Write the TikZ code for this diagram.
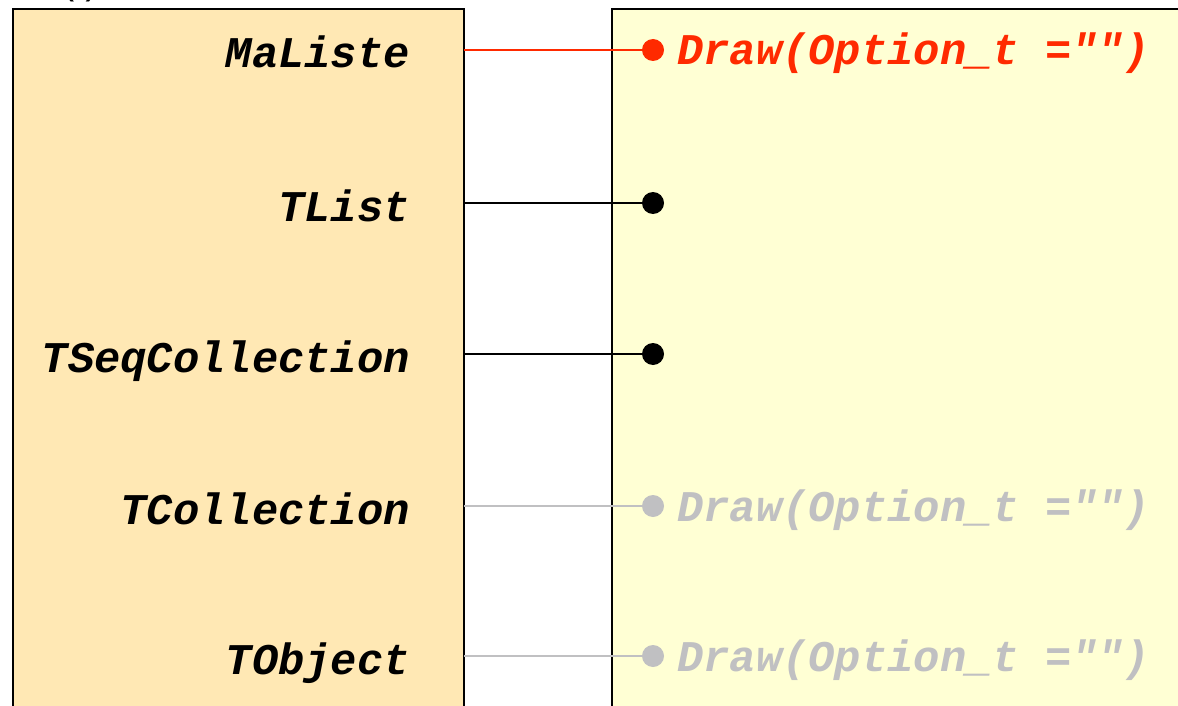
\documentclass[tikz,border=0pt]{standalone}
\usepackage{fontspec}
\setmonofont{Liberation Mono}
\begin{document}
\begin{tikzpicture}[x=1pt,y=-1pt,
  code/.style={font=\fontsize{43.8}{44}\selectfont\ttfamily\bfseries\itshape, inner sep=0pt},
  cls/.style={code, anchor=base east},
  meth/.style={code, anchor=base west},
  pin/.style={circle, fill=#1, minimum size=22pt, inner sep=0pt},
  link/.style={draw=#1, line width=1.7pt}]
\definecolor{leftfill}{HTML}{FFE8B4}
\definecolor{rightfill}{HTML}{FFFFD4}
\definecolor{hot}{HTML}{FF2A00}
\definecolor{faded}{HTML}{C0C0C2}
\useasboundingbox (0,0) rectangle (1178,706);
\clip (0,0) rectangle (1178,706);

% partially visible heading above the class column
\node[code, anchor=base, font=\fontsize{36}{36}\selectfont\ttfamily] (head) at (80,-5) {()};

% class column and method column
\draw[fill=leftfill, line width=2pt] (13,9) rectangle (464,730);
\draw[fill=rightfill, line width=2pt] (612,9) rectangle (1200,730);

% class names
\node[cls] (c1) at (410,68) {MaListe};
\node[cls] (c2) at (410,221) {TList};
\node[cls] (c3) at (410,372) {TSeqCollection};
\node[cls] (c4) at (410,524) {TCollection};
\node[cls] (c5) at (410,674) {TObject};

% anchor points on the class column edge
\coordinate (e1) at (464,50);
\coordinate (e2) at (464,203);
\coordinate (e3) at (464,354);
\coordinate (e4) at (464,506);
\coordinate (e5) at (464,656);

% method pins
\node[pin=hot] (p1) at (653,50) {};
\node[pin=black] (p2) at (653,203) {};
\node[pin=black] (p3) at (653,354) {};
\node[pin=faded] (p4) at (653,506) {};
\node[pin=faded] (p5) at (653,656) {};

% connectors
\draw[link=hot] (e1) -- (p1.center);
\draw[link=black] (e2) -- (p2.center);
\draw[link=black] (e3) -- (p3.center);
\draw[link=faded] (e4) -- (p4.center);
\draw[link=faded] (e5) -- (p5.center);

% method signatures
\node[meth, text=hot] (m1) at (677,65) {Draw(Option\_t =\char34\char34)};
\node[meth, text=faded] (m4) at (677,521) {Draw(Option\_t =\char34\char34)};
\node[meth, text=faded] (m5) at (677,671) {Draw(Option\_t =\char34\char34)};
\end{tikzpicture}
\end{document}
